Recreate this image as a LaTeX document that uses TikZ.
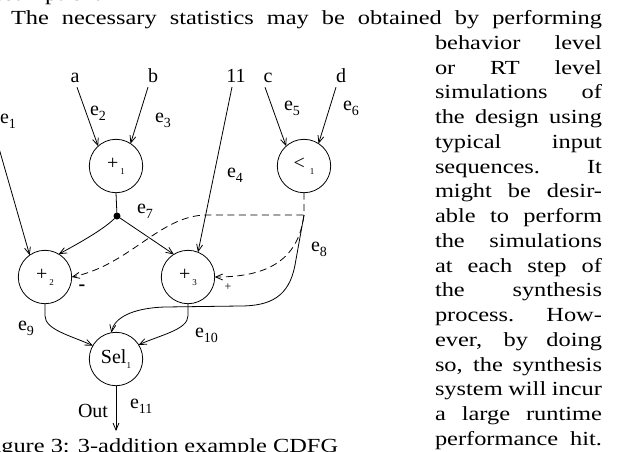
\documentclass[tikz,border=0pt]{standalone}
\usepackage{fontspec}
\setmainfont{Liberation Serif}
\newfontfamily\bodyfam{Liberation Serif}[FakeStretch=1.22]
\usetikzlibrary{arrows.meta}

% fonts: page text is set a little wide, figure labels are plain
\newcommand\bodyfont{\bodyfam\fontsize{20}{24}\selectfont}
\newcommand\figfont{\rmfamily\fontsize{20}{24}\selectfont}
% edge label e_n and operator subscript
\newcommand\elab[1]{e\raisebox{-5pt}{\fontsize{14}{14}\selectfont #1}}
\newcommand\opsub[1]{\raisebox{-5pt}{\fontsize{9}{9}\selectfont #1}}

\begin{document}
\begin{tikzpicture}[x=1pt,y=1pt,
  every node/.style={inner sep=0pt, outer sep=0pt},
  opnode/.style={draw, circle, minimum size=53.4pt, line width=0.8pt, font=\figfont},
  wire/.style={line width=0.8pt},
  conn/.style={wire, -{Straight Barb[length=7pt,width=6pt]}},
  dashconn/.style={conn, dash pattern=on 7pt off 4.5pt},
  dashwire/.style={wire, dash pattern=on 7pt off 4.5pt},
  lab/.style={anchor=base west, font=\figfont},
  inlab/.style={anchor=base, font=\figfont},
  txt/.style={anchor=base west, font=\bodyfont}]

\useasboundingbox (0,0) rectangle (619,-451);
\clip (0,0) rectangle (619,-451);

% ---- running text ----
\node[txt] (tprev) at (-16,-0.5) {assumption.};
\node[txt] (t0) at (11,-24.5) {\makebox[591pt][s]{The necessary statistics may be obtained by performing}};
\node[txt] (t1)  at (435,-49.25)  {\makebox[167pt][s]{behavior level}};
\node[txt] (t2)  at (435,-74.0)   {\makebox[167pt][s]{or RT level}};
\node[txt] (t3)  at (435,-98.75)  {\makebox[167pt][s]{simulations of}};
\node[txt] (t4)  at (435,-123.5)  {\makebox[167pt][s]{the design using}};
\node[txt] (t5)  at (435,-148.25) {\makebox[167pt][s]{typical input}};
\node[txt] (t6)  at (435,-173.0)  {\makebox[167pt][s]{sequences. It}};
\node[txt] (t7)  at (435,-197.75) {\makebox[167pt][s]{might be desir-}};
\node[txt] (t8)  at (435,-222.5)  {\makebox[167pt][s]{able to perform}};
\node[txt] (t9)  at (435,-247.25) {\makebox[167pt][s]{the simulations}};
\node[txt] (t10) at (435,-272.0)  {\makebox[167pt][s]{at each step of}};
\node[txt] (t11) at (435,-296.75) {\makebox[167pt][s]{the synthesis}};
\node[txt] (t12) at (435,-321.5)  {\makebox[167pt][s]{process. How-}};
\node[txt] (t13) at (435,-346.25) {\makebox[167pt][s]{ever, by doing}};
\node[txt] (t14) at (435,-371.0)  {\makebox[167pt][s]{so, the synthesis}};
\node[txt] (t15) at (435,-395.75) {\makebox[167pt][s]{system will incur}};
\node[txt] (t16) at (435,-420.5)  {\makebox[167pt][s]{a large runtime}};
\node[txt] (t17) at (435,-445.25) {\makebox[167pt][s]{performance hit.}};
\node[txt] (cap) at (-19,-452) {Figure 3: 3-addition example CDFG};

% ---- inputs ----
\node[inlab] (ina)  at (75,-82)  {a};
\node[inlab] (inb)  at (153,-82) {b};
\node[inlab] (in11) at (236,-82) {11};
\node[inlab] (inc)  at (268,-82) {c};
\node[inlab] (ind)  at (341,-82) {d};
\coordinate (e1src) at (-12,-110);

% ---- operations ----
\node[opnode] (p1)  at (116,-166) {+\hspace{2pt}\opsub{1}};
\node[opnode] (lt)  at (304,-166) {<\hspace{5pt}\opsub{1}};
\node[opnode] (p2)  at (45,-277)  {+\hspace{2pt}\opsub{2}};
\node[opnode] (p3)  at (188,-277) {+\hspace{2pt}\opsub{3}};
\node[opnode] (sel) at (116,-359) {Sel\opsub{1}};
\node[circle, fill, minimum size=7pt] (dot) at (117,-216) {};
\coordinate (corner) at (304,-215);
\coordinate (bend) at (207,-215);
\coordinate (outend) at (116,-431);

% ---- edges ----
\draw[conn] ([xshift=2pt,yshift=-5pt]ina.south) -- (p1.132);
\draw[conn] ([xshift=-5pt,yshift=-5pt]inb.south) -- (p1.57);
\draw[conn] ([xshift=-3pt,yshift=-5pt]inc.south) -- (lt.132);
\draw[conn] ([xshift=-5pt,yshift=-5pt]ind.south) -- (lt.57);
\draw[conn] ([xshift=-4pt,yshift=-5pt]in11.south) -- (p3.68);
\draw[conn] (e1src) -- (p2.125);
\draw[wire] (p1.south) -- (dot);
\draw[conn] (dot) .. controls +(-12,-12) and +(26,14) .. (p2.59);
\draw[conn] (dot) -- (p3.122);
\draw[dashconn] (lt.south) -- (corner) -- (bend)
  .. controls (160,-215) and (130,-265) .. (p2.east);
\draw[dashconn] (corner) .. controls (298,-262) and (265,-277) .. (p3.east);
\draw[conn] (corner) -- (295,-265) .. controls (289,-297) and (270,-306) .. (240,-306)
  -- (165,-307) .. controls (132,-308) and (114,-318) .. (sel.100);
\draw[conn] (p2.south) -- ++(0,-12) .. controls +(0,-14) and +(-22,10) .. (sel.150);
\draw[conn] (p3.south) -- ++(0,-12) .. controls +(0,-14) and +(22,10) .. (sel.32);
\draw[conn] (sel.south) -- (outend);

% ---- edge labels ----
\node[lab] (l1)  at (0,-123)   {\elab{1}};
\node[lab] (l2)  at (90,-115)  {\elab{2}};
\node[lab] (l3)  at (155,-122) {\elab{3}};
\node[lab] (l4)  at (227,-177) {\elab{4}};
\node[lab] (l5)  at (284,-110) {\elab{5}};
\node[lab] (l6)  at (343,-110) {\elab{6}};
\node[lab] (l7)  at (137,-213) {\elab{7}};
\node[lab] (l8)  at (311,-251) {\elab{8}};
\node[lab] (l9)  at (18,-330)  {\elab{9}};
\node[lab] (l10) at (195,-337) {\elab{10}};
\node[lab] (l11) at (130,-408) {\elab{11}};
\node[lab] (lout) at (78,-417) {Out};
\node[font=\figfont\bfseries] (lminus) at (82,-288) {-};
\node[font=\fontsize{12}{12}\selectfont] (lplus) at (228,-287) {+};
\end{tikzpicture}
\end{document}
